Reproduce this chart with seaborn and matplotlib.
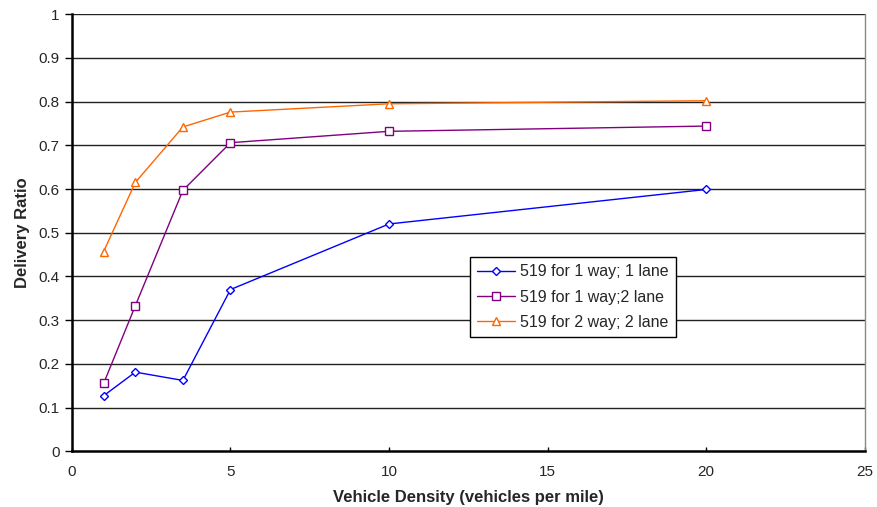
import matplotlib
matplotlib.use("Agg")
import matplotlib.pyplot as plt
import seaborn as sns
import pandas as pd

density = [1, 2, 3.5, 5, 10, 20]
one_way_one_lane = [0.127, 0.181, 0.162, 0.370, 0.520, 0.599]
one_way_two_lane = [0.155, 0.333, 0.597, 0.706, 0.732, 0.744]
two_way_two_lane = [0.457, 0.615, 0.742, 0.776, 0.795, 0.802]
series_names = ["519 for 1 way; 1 lane", "519 for 1 way;2 lane", "519 for 2 way; 2 lane"]
x_ticks = [0, 5, 10, 15, 20, 25]
y_ticks = [0, 0.1, 0.2, 0.3, 0.4, 0.5, 0.6, 0.7, 0.8, 0.9, 1]

sns.set_style("white")
plt.rcParams['font.family'] = ['Liberation Sans', 'DejaVu Sans']

df = pd.DataFrame({
    "x": density * 3,
    "y": one_way_one_lane + one_way_two_lane + two_way_two_lane,
    "s": [series_names[0]] * 6 + [series_names[1]] * 6 + [series_names[2]] * 6,
})

fig = plt.figure(figsize=(8.77, 5.07), dpi=100)
ax = fig.add_axes([0.082, 0.110, 0.904, 0.862])

for yv in y_ticks[1:]:
    ax.axhline(yv, color="#222222", lw=1.0, zorder=0)

palette = {series_names[0]: "#0000FF", series_names[1]: "#800080", series_names[2]: "#FF6600"}
markers = {series_names[0]: "D", series_names[1]: "s", series_names[2]: "^"}
sizes = {series_names[0]: 4.5, series_names[1]: 6.0, series_names[2]: 6.0}
for name in series_names:
    sub = df[df.s == name]
    sns.lineplot(data=sub, x="x", y="y", ax=ax, color=palette[name], marker=markers[name],
                 markersize=sizes[name], markerfacecolor="white", markeredgecolor=palette[name],
                 markeredgewidth=1.0, lw=1.0, label=name, sort=False)

ax.set_xlim(0, 25)
ax.set_ylim(0, 1)
ax.set_xticks(x_ticks)
ax.set_xticklabels([str(t) for t in x_ticks])
ax.set_yticks(y_ticks)
ax.set_yticklabels(["0", "0.1", "0.2", "0.3", "0.4", "0.5", "0.6", "0.7", "0.8", "0.9", "1"])
ax.tick_params(axis="x", labelsize=11, length=3, width=1, direction="in", color="black",
               bottom=True, pad=10)
ax.tick_params(axis="y", labelsize=11, length=5, width=1, direction="out", color="black",
               left=True, pad=4)
ax.spines["top"].set_visible(False)
ax.spines["right"].set_color("#888888")
ax.spines["right"].set_linewidth(1.0)
for s in ["left", "bottom"]:
    ax.spines[s].set_color("black")
    ax.spines[s].set_linewidth(1.8)

ax.set_xlabel("Vehicle Density (vehicles per mile)", fontsize=12, fontweight="bold", labelpad=8)
ax.set_ylabel("Delivery Ratio", fontsize=12, fontweight="bold", labelpad=6)

leg = ax.legend(loc="lower left", bbox_to_anchor=(0.502, 0.261), frameon=True, fontsize=11.5,
                fancybox=False, edgecolor="black", borderpad=0.45, handlelength=2.4,
                labelspacing=0.65, handletextpad=0.3, borderaxespad=0)
leg.get_frame().set_linewidth(1.0)
leg.get_frame().set_alpha(1)

fig.savefig("out.png", dpi=100)
